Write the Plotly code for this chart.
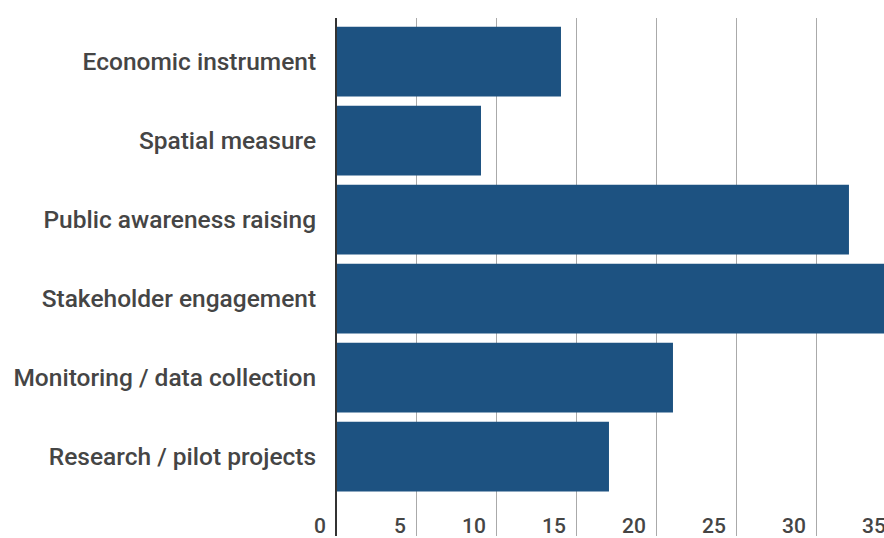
import plotly.graph_objects as go

categories = [
    "Economic instrument",
    "Spatial measure",
    "Public awareness raising",
    "Stakeholder engagement",
    "Monitoring / data collection",
    "Research / pilot projects",
]
values = [14, 9, 32, 35, 21, 17]
tick_values = [0, 5, 10, 15, 20, 25, 30, 35]
tick_labels = ["0", "5", "10", "15", "20", "25", "30", "35"]

BAR_COLOR = "#1d5281"
TEXT_COLOR = "#454545"

fig = go.Figure(
    go.Bar(
        y=categories,
        x=values,
        orientation="h",
        marker=dict(color=BAR_COLOR, line=dict(width=0)),
    )
)

fig.update_layout(
    width=900,
    height=538,
    margin=dict(l=337, r=0, t=18, b=0),
    paper_bgcolor="white",
    plot_bgcolor="white",
    bargap=0.117,
    showlegend=False,
    font=dict(family="Roboto", color=TEXT_COLOR),
)

fig.update_xaxes(
    range=[0, 35.19],
    tickvals=tick_values,
    ticktext=tick_labels,
    showgrid=True,
    gridcolor="#aaaaaa",
    gridwidth=1,
    zeroline=False,
    showline=False,
    ticks="",
    ticklabelposition="inside left",
    ticklabelshift=-11,
    ticklabelstandoff=-7,
    tickfont=dict(family="Roboto", size=21, color=TEXT_COLOR, weight=500),
    ticklabeloverflow="allow",
)

fig.update_yaxes(
    categoryorder="array",
    categoryarray=categories,
    range=[6.006, -0.551],
    showgrid=False,
    zeroline=False,
    showline=True,
    linecolor="#333333",
    linewidth=2,
    ticks="",
    ticklabelstandoff=14,
    tickfont=dict(family="Roboto", size=24.5, color=TEXT_COLOR, weight=500),
)

fig.write_html(
    "out.html",
    config={"displayModeBar": False},
    post_script="document.body.style.margin='0';document.body.style.overflow='hidden';document.documentElement.style.overflow='hidden';",
)
